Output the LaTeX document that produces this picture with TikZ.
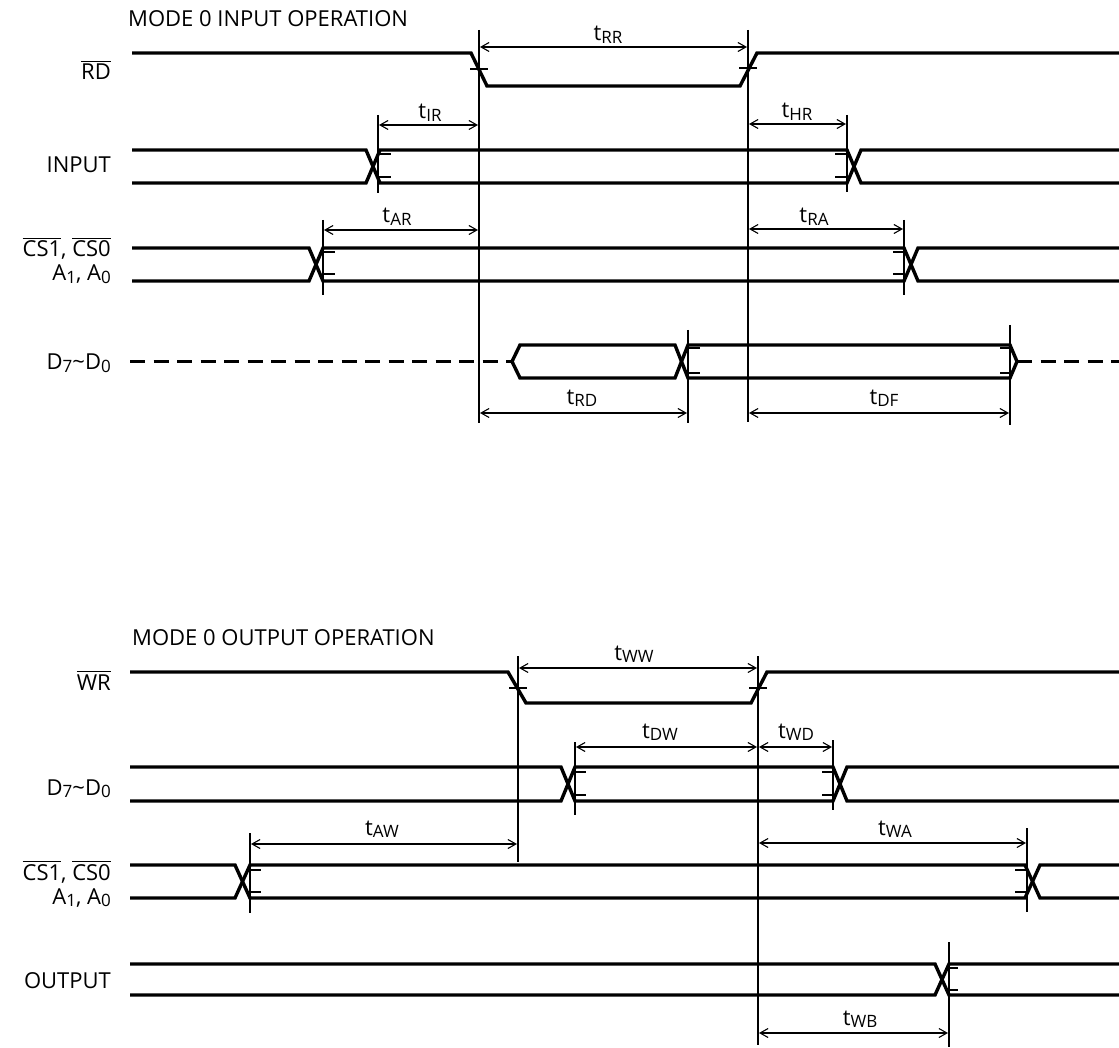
\documentclass[tikz,border=0pt]{standalone}
\usepackage{fontspec}
\setmainfont{Open Sans}
\usetikzlibrary{arrows.meta}

\newcommand{\lowsub}[1]{\raisebox{-2.5pt}{\fontsize{17}{17}\selectfont #1}}
\newcommand{\ovl}[1]{\leavevmode\vbox{\hrule height 1.3pt\kern 2.2pt\hbox{#1}}}

\begin{document}
\begin{tikzpicture}[x=1pt,y=-1pt,font=\fontsize{22}{26}\selectfont,
	sig/.style={line width=3.4pt},
	busfloat/.style={line width=3.4pt,dash pattern=on 15pt off 8.5pt},
	refline/.style={line width=1.4pt},
	levtick/.style={line width=1.2pt},
	tspan/.style={line width=1.1pt,{Straight Barb[length=8pt,width=9pt]}-{Straight Barb[length=8pt,width=9pt]}},
	sname/.style={anchor=base east,inner sep=0pt},
	tname/.style={anchor=base,inner sep=0pt}]
	\useasboundingbox (0,0) rectangle (1119,1048);

	%titles
	\node[anchor=base west,inner sep=0pt] (intitle) at (128,27) {MODE 0 INPUT OPERATION};
	\node[anchor=base west,inner sep=0pt] (outtitle) at (132,645) {MODE 0 OUTPUT OPERATION};

	%signal names, input
	\node[sname] (rdname) at (111,80) {\ovl{RD}};
	\node[sname] (inname) at (111,173) {INPUT};
	\node[sname] (csname) at (111,257) {\ovl{CS1}, \ovl{CS0}};
	\node[sname] (aname) at (111,281) {A\lowsub{1}, A\lowsub{0}};
	\node[sname] (dname) at (111,370) {D\lowsub{7}\textasciitilde D\lowsub{0}};

	%signal names, output
	\node[sname] (wrname) at (111,690) {\ovl{WR}};
	\node[sname] (doname) at (111,795) {D\lowsub{7}\textasciitilde D\lowsub{0}};
	\node[sname] (csoname) at (111,880) {\ovl{CS1}, \ovl{CS0}};
	\node[sname] (aoname) at (111,904) {A\lowsub{1}, A\lowsub{0}};
	\node[sname] (outname) at (111,988) {OUTPUT};

	%RD
	\draw[sig] (132,53) -- (471,53) -- (487,86) -- (740,86) -- (757,53) -- (1119,53);
	%INPUT
	\draw[sig] (132,150) -- (366,150) -- (380,183) -- (847,183) -- (861,150) -- (1119,150);
	\draw[sig] (132,183) -- (366,183) -- (380,150) -- (847,150) -- (861,183) -- (1119,183);
	%CS, A
	\draw[sig] (132,248) -- (309,248) -- (323,281) -- (904,281) -- (918,248) -- (1119,248);
	\draw[sig] (132,281) -- (309,281) -- (323,248) -- (904,248) -- (918,281) -- (1119,281);
	%data bus
	\draw[busfloat] (130,361.5) -- (512,361.5);
	\draw[sig] (512,361.5) -- (520,345) -- (675,345) -- (688,378) -- (1010,378) -- (1017,361.5);
	\draw[sig] (512,361.5) -- (520,378) -- (675,378) -- (688,345) -- (1010,345) -- (1017,361.5);
	\draw[busfloat] (1017,361.5) -- (1119,361.5);

	%WR
	\draw[sig] (130,672) -- (508,672) -- (526,703) -- (751,703) -- (767,672) -- (1119,672);
	%data out
	\draw[sig] (130,767) -- (561,767) -- (575,801) -- (833,801) -- (847,767) -- (1119,767);
	\draw[sig] (130,801) -- (561,801) -- (575,767) -- (833,767) -- (847,801) -- (1119,801);
	%CS, A
	\draw[sig] (130,865) -- (235,865) -- (250,898) -- (1025,898) -- (1040,865) -- (1119,865);
	\draw[sig] (130,898) -- (235,898) -- (250,865) -- (1025,865) -- (1040,898) -- (1119,898);
	%OUTPUT
	\draw[sig] (130,964) -- (935,964) -- (949,995) -- (1119,995);
	\draw[sig] (130,995) -- (935,995) -- (949,964) -- (1119,964);

	%reference lines, input
	\draw[refline] (479,30) -- (479,423); %RD fall
	\draw[refline] (748,30) -- (748,422); %RD rise
	\draw[refline] (378,115) -- (378,193);
	\draw[refline] (847,115) -- (847,192);
	\draw[refline] (323,220) -- (323,295);
	\draw[refline] (904,220) -- (904,295);
	\draw[refline] (688,330) -- (688,423);
	\draw[refline] (1010,325) -- (1010,425);

	%reference lines, output
	\draw[refline] (518,656) -- (518,862); %WR fall
	\draw[refline] (758,656) -- (758,1045); %WR rise
	\draw[refline] (575,742) -- (575,815);
	\draw[refline] (833,740) -- (833,810);
	\draw[refline] (250,833) -- (250,913);
	\draw[refline] (1027,828) -- (1027,912);
	\draw[refline] (949,942) -- (949,1047);

	%level ticks, input
	\draw[levtick] (470,69) -- (488,69) (739,68) -- (757,68);
	\draw[levtick] (378,154) -- (391,154) (378,177) -- (391,177);
	\draw[levtick] (835,154) -- (847,154) (835,177) -- (847,177);
	\draw[levtick] (323,252) -- (335,252) (323,274) -- (335,274);
	\draw[levtick] (893,252) -- (904,252) (893,274) -- (904,274);
	\draw[levtick] (688,348) -- (700,348) (688,373) -- (700,373);
	\draw[levtick] (1000,348) -- (1010,348) (1000,373) -- (1010,373);

	%level ticks, output
	\draw[levtick] (509,688) -- (527,688) (749,688) -- (767,688);
	\draw[levtick] (575,772) -- (586,772) (575,795) -- (586,795);
	\draw[levtick] (822,772) -- (833,772) (822,795) -- (833,795);
	\draw[levtick] (250,870) -- (261,870) (250,892) -- (261,892);
	\draw[levtick] (1015,870) -- (1027,870) (1015,892) -- (1027,892);
	\draw[levtick] (949,968) -- (958,968) (949,990) -- (958,990);

	%timing arrows, input
	\draw[tspan] (480,47) -- (747,47);
	\draw[tspan] (379,125) -- (478,125);
	\draw[tspan] (749,124) -- (846,124);
	\draw[tspan] (324,230) -- (478,230);
	\draw[tspan] (749,229) -- (903,229);
	\draw[tspan] (480,413) -- (687,413);
	\draw[tspan] (749,413) -- (1009,413);

	%timing arrows, output
	\draw[tspan] (519,668) -- (757,668);
	\draw[tspan] (576,747) -- (757,747);
	\draw[tspan] (759,747) -- (832,747);
	\draw[tspan] (251,844) -- (517,844);
	\draw[tspan] (759,843) -- (1026,843);
	\draw[tspan] (759,1033) -- (948,1033);

	%timing labels
	\node[tname] (trr) at (608,41) {t\lowsub{RR}};
	\node[tname] (tir) at (430,119) {t\lowsub{IR}};
	\node[tname] (thr) at (797,118) {t\lowsub{HR}};
	\node[tname] (tar) at (397,223) {t\lowsub{AR}};
	\node[tname] (tra) at (814,223) {t\lowsub{RA}};
	\node[tname] (trd) at (582,404) {t\lowsub{RD}};
	\node[tname] (tdf) at (884,404) {t\lowsub{DF}};
	\node[tname] (tww) at (634,660) {t\lowsub{WW}};
	\node[tname] (tdw) at (660,738) {t\lowsub{DW}};
	\node[tname] (twd) at (796,738) {t\lowsub{WD}};
	\node[tname] (taw) at (382,835) {t\lowsub{AW}};
	\node[tname] (twa) at (895,835) {t\lowsub{WA}};
	\node[tname] (twb) at (860,1025) {t\lowsub{WB}};
\end{tikzpicture}
\end{document}
